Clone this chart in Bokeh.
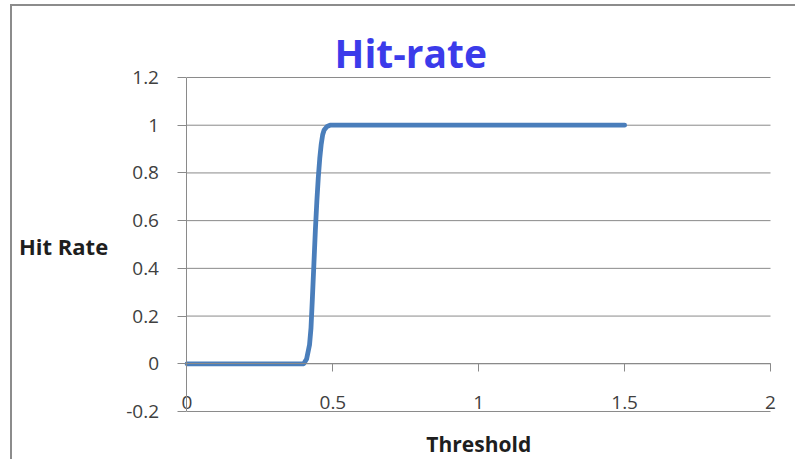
from bokeh.plotting import figure
from bokeh.models import LinearAxis, FixedTicker, CustomJSTickFormatter, Label, Range1d
from bokeh.embed import file_html
from bokeh.resources import INLINE

# Hit rate as a function of the decision threshold
threshold = [0.0, 0.05, 0.1, 0.15, 0.2, 0.25, 0.3, 0.35, 0.38, 0.40, 0.41, 0.42,
             0.425, 0.43, 0.435, 0.44, 0.445, 0.45, 0.455, 0.46, 0.465, 0.47,
             0.48, 0.49, 0.5, 0.6, 0.7, 0.8, 0.9, 1.0, 1.1, 1.2, 1.3, 1.4, 1.5]
hit_rate = [0.0, 0.0, 0.0, 0.0, 0.0, 0.0, 0.0, 0.0, 0.0, 0.0, 0.02, 0.08,
            0.15, 0.28, 0.42, 0.56, 0.68, 0.78, 0.86, 0.92, 0.96, 0.98,
            0.995, 1.0, 1.0, 1.0, 1.0, 1.0, 1.0, 1.0, 1.0, 1.0, 1.0, 1.0, 1.0]

x_ticks = [0, 0.5, 1, 1.5, 2]
y_ticks = [-0.2, 0, 0.2, 0.4, 0.6, 0.8, 1, 1.2]

title_text = "Hit-rate"
x_title = "Threshold"
y_title = "Hit Rate"

FONT = "Open Sans"
GRID = "#8a8a8a"
TICK_COLOR = "#404040"

# The frame covers the whole chart area; the axes sit at x = 0 and y = 0.
p = figure(width=785, height=455, output_backend="svg", toolbar_location=None,
           x_range=Range1d(-0.5981, 2.0925), y_range=Range1d(-0.4096, 1.4976),
           x_axis_type=None, y_axis_type=None,
           min_border=0,
           styles={"margin-left": "10px", "margin-top": "4px",
                   "border-top": "2px solid #8c8c8c",
                   "border-left": "2px solid #8c8c8c"})
p.outline_line_color = None
p.background_fill_color = "white"
p.border_fill_color = "white"
p.xgrid.visible = False
p.ygrid.visible = False

fmt = CustomJSTickFormatter(code="return Number(tick.toFixed(2)).toString();")

# horizontal gridlines across the plot area
p.segment(x0=[x_ticks[0]] * len(y_ticks), x1=[x_ticks[-1]] * len(y_ticks),
          y0=y_ticks, y1=y_ticks, line_color=GRID, line_width=1)

# vertical axis at x = 0
yax = LinearAxis(ticker=FixedTicker(ticks=y_ticks), formatter=fmt,
                 fixed_location=0, bounds=(y_ticks[0], y_ticks[-1]))
yax.axis_line_color = GRID
yax.major_tick_line_color = GRID
yax.major_tick_out = 9
yax.major_tick_in = 0
yax.minor_tick_line_color = None
yax.major_label_standoff = 19
yax.major_label_text_font = FONT
yax.major_label_text_font_size = "19px"
yax.major_label_text_color = TICK_COLOR
p.add_layout(yax, "left")

# horizontal axis crossing at y = 0
xax = LinearAxis(ticker=FixedTicker(ticks=x_ticks), formatter=fmt,
                 fixed_location=0, bounds=(x_ticks[0], x_ticks[-1]))
xax.axis_line_color = GRID
xax.major_tick_line_color = GRID
xax.major_tick_out = 8
xax.major_tick_in = 0
xax.minor_tick_line_color = None
xax.major_label_standoff = 24
xax.major_label_text_font = FONT
xax.major_label_text_font_size = "19px"
xax.major_label_text_color = TICK_COLOR
p.add_layout(xax, "below")

p.line(threshold, hit_rate, line_color="#4a7ebb", line_width=4.8,
       line_join="round", line_cap="round")

p.add_layout(Label(x=0.767, y=1.305, text=title_text, text_font=FONT,
                   text_font_size="39px", text_font_style="bold",
                   text_color="#3b3bea", text_align="center",
                   text_baseline="middle"))
p.add_layout(Label(x=-0.423, y=0.492, text=y_title, text_font=FONT,
                   text_font_size="22px", text_font_style="bold",
                   text_color="#1e1e1e", text_align="center",
                   text_baseline="middle"))
p.add_layout(Label(x=1.0, y=-0.338, text=x_title, text_font=FONT,
                   text_font_size="21px", text_font_style="bold",
                   text_color="#1e1e1e", text_align="center",
                   text_baseline="middle"))

open("out.html", "w").write(file_html(p, INLINE))
